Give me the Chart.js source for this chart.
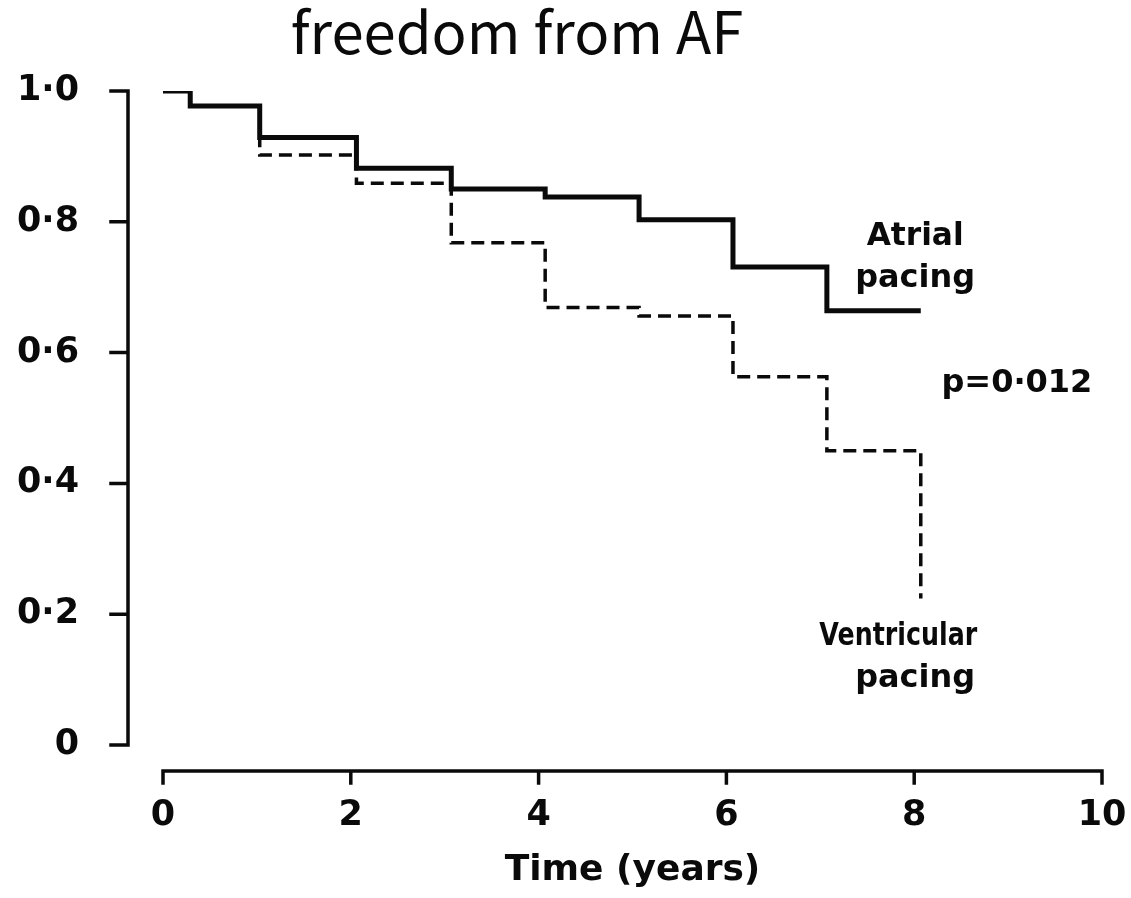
<!DOCTYPE html>
<html>
<head>
<meta charset="utf-8">
<script src="https://cdn.jsdelivr.net/npm/chart.js@4.4.1/dist/chart.umd.min.js"></script>
<style>
  html, body { margin: 0; padding: 0; background: #fff; }
  #wrap { position: relative; width: 1131px; height: 898px; }
</style>
</head>
<body>
<div id="wrap"><canvas id="km" width="1131" height="898"></canvas></div>
<script>
'use strict';

// Kaplan-Meier steps: time of each event (years) and survival after it
const atrialTimes = [0, 0.29, 1.03, 2.06, 3.07, 4.07, 5.07, 6.07, 7.07, 8.07];
const atrialSurv  = [1.0, 0.977, 0.929, 0.882, 0.850, 0.838, 0.803, 0.731, 0.664, 0.664];
const ventTimes   = [0, 0.29, 1.03, 2.06, 3.07, 4.07, 5.07, 6.07, 7.07, 8.07];
const ventSurv    = [1.0, 0.977, 0.902, 0.859, 0.768, 0.669, 0.656, 0.563, 0.450, 0.224];

const xTicks      = [0, 2, 4, 6, 8, 10];
const xTickLabels = ['0', '2', '4', '6', '8', '10'];
const yTicks      = [0, 0.2, 0.4, 0.6, 0.8, 1.0];
const yTickLabels = ['0', '0·2', '0·4', '0·6', '0·8', '1·0'];

const BOLD = "'DejaVu Sans', sans-serif";
const INK = '#0a0a0a';

function toPoints(times, surv) {
    return times.map((t, i) => ({ x: t, y: surv[i] }));
}

/* axes drawn detached from the plot, as in journal KM figures */
const detachedAxes = {
    id: 'detachedAxes',
    afterDraw(chart) {
        const { ctx, chartArea: a, scales: { x, y } } = chart;
        ctx.save();
        ctx.strokeStyle = INK;
        ctx.lineWidth = 3.5;
        ctx.lineCap = 'square';

        const ax = a.left - 35;
        ctx.beginPath();
        ctx.moveTo(ax, y.getPixelForValue(1));
        ctx.lineTo(ax, y.getPixelForValue(0));
        yTicks.forEach(v => {
            const py = y.getPixelForValue(v);
            ctx.moveTo(ax, py);
            ctx.lineTo(ax - 17, py);
        });
        ctx.stroke();

        const ay = a.bottom + 26;
        ctx.beginPath();
        ctx.moveTo(x.getPixelForValue(0), ay);
        ctx.lineTo(x.getPixelForValue(10), ay);
        xTicks.forEach(v => {
            const px = x.getPixelForValue(v);
            ctx.moveTo(px, ay);
            ctx.lineTo(px, ay + 12);
        });
        ctx.stroke();
        ctx.restore();
    }
};

/* title, curve labels and p value */
const notes = {
    id: 'notes',
    afterDraw(chart) {
        const { ctx, scales: { x, y } } = chart;
        ctx.save();
        ctx.fillStyle = INK;
        ctx.textBaseline = 'alphabetic';

        ctx.textAlign = 'center';
        ctx.font = "400 58px 'Noto Sans CJK JP', 'Noto Sans', sans-serif";
        ctx.fillText('freedom from AF', 517, 54);

        ctx.font = 'bold 32px ' + BOLD;
        ctx.fillText('Atrial', x.getPixelForValue(8.01), y.getPixelForValue(0.764), 97);
        ctx.fillText('pacing', x.getPixelForValue(8.01), y.getPixelForValue(0.700), 120);
        ctx.fillText('Ventricular', x.getPixelForValue(7.83), y.getPixelForValue(0.153), 158);
        ctx.fillText('pacing', x.getPixelForValue(8.01), y.getPixelForValue(0.089), 120);

        ctx.textAlign = 'left';
        ctx.fillText('p=0·012', x.getPixelForValue(8.29), y.getPixelForValue(0.540), 154);
        ctx.restore();
    }
};

new Chart(document.getElementById('km'), {
    type: 'line',
    data: {
        datasets: [
            {
                label: 'Atrial pacing',
                data: toPoints(atrialTimes, atrialSurv),
                borderColor: INK, borderWidth: 5,
                stepped: true, pointRadius: 0, fill: false
            },
            {
                label: 'Ventricular pacing',
                data: toPoints(ventTimes, ventSurv),
                borderColor: INK, borderWidth: 3.5, borderDash: [13, 7],
                stepped: true, pointRadius: 0, fill: false
            }
        ]
    },
    options: {
        responsive: false,
        animation: false,
        layout: { padding: { top: 91, right: 29, left: 0, bottom: 0 } },
        plugins: {
            legend: { display: false },
            tooltip: { enabled: false },
            title: { display: false }
        },
        scales: {
            x: {
                type: 'linear', min: 0, max: 10,
                grid: { display: false }, border: { display: false },
                afterBuildTicks: s => { s.ticks = xTicks.map(v => ({ value: v })); },
                afterFit: s => { s.height = 153; s.paddingLeft = 0; s.paddingRight = 0; },
                ticks: {
                    padding: 42, color: INK, maxRotation: 0, autoSkip: false,
                    font: { family: BOLD, size: 35, weight: 'bold' },
                    callback: (v, i) => xTickLabels[i]
                },
                title: {
                    display: true, text: 'Time (years)', color: INK,
                    font: { family: BOLD, size: 36, weight: 'bold' },
                    padding: { top: 0, bottom: 6 }
                }
            },
            y: {
                type: 'linear', min: 0, max: 1,
                grid: { display: false }, border: { display: false },
                afterBuildTicks: s => { s.ticks = yTicks.map(v => ({ value: v })); },
                afterFit: s => { s.width = 163; s.paddingTop = 0; s.paddingBottom = 0; },
                ticks: {
                    padding: 76, color: INK, autoSkip: false,
                    font: { family: BOLD, size: 35, weight: 'bold' },
                    callback: (v, i) => yTickLabels[i]
                }
            }
        }
    },
    plugins: [detachedAxes, notes]
});
</script>
</body>
</html>
